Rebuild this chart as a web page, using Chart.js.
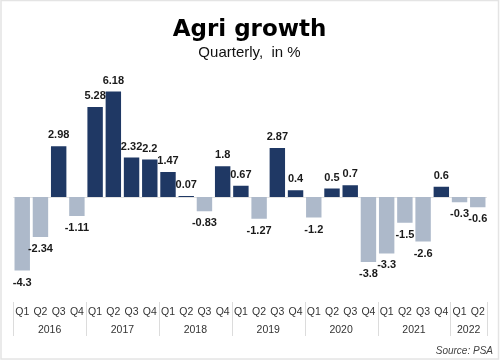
<!DOCTYPE html>
<html><head><meta charset="utf-8">
<script src="https://cdn.jsdelivr.net/npm/chart.js@4.4.0/dist/chart.umd.min.js"></script>
<style>html,body{margin:0;padding:0;background:#fff}canvas{display:block}</style>
</head><body>
<canvas id="c" width="500" height="362"></canvas>
<script>
const quarters = ['Q1','Q2','Q3','Q4','Q1','Q2','Q3','Q4','Q1','Q2','Q3','Q4','Q1','Q2','Q3','Q4','Q1','Q2','Q3','Q4','Q1','Q2','Q3','Q4','Q1','Q2'];
const years = ['2016','2017','2018','2019','2020','2021','2022'];
const quartersPerYear = [4,4,4,4,4,4,2];
const growth = [-4.3,-2.34,2.98,-1.11, 5.28,6.18,2.32,2.2, 1.47,0.07,-0.83,1.8, 0.67,-1.27,2.87,0.4, -1.2,0.5,0.7,-3.8, -3.3,-1.5,-2.6,0.6, -0.3,-0.6];

const POS = '#1f3864', NEG = '#adb9ca';
const SANS = '"Liberation Sans", Arial, sans-serif';

const extras = {
  id: 'extras',
  beforeDraw(chart) {
    const ctx = chart.ctx;
    ctx.save();
    ctx.fillStyle = '#fff';
    ctx.fillRect(0, 0, chart.width, chart.height);
    ctx.strokeStyle = '#e4e4e4';
    ctx.lineWidth = 1.5;
    ctx.strokeRect(1, 0.5, 497.5, 358.5);
    ctx.restore();
  },
  beforeDatasetsDraw(chart) {
    const ctx = chart.ctx, y = chart.scales.y, a = chart.chartArea;
    const y0 = Math.round(y.getPixelForValue(0)) + 0.5;
    ctx.save();
    ctx.strokeStyle = '#e2e2e2';
    ctx.lineWidth = 1;
    ctx.beginPath(); ctx.moveTo(a.left, y0); ctx.lineTo(a.right, y0); ctx.stroke();
    ctx.restore();
  },
  afterDatasetsDraw(chart) {
    const ctx = chart.ctx, meta = chart.getDatasetMeta(0);
    ctx.save();
    ctx.font = 'bold 11px ' + SANS;
    ctx.fillStyle = '#1a1a1a';
    ctx.textAlign = 'center';
    ctx.textBaseline = 'middle';
    meta.data.forEach((bar, i) => {
      const v = growth[i];
      const ty = v >= 0 ? bar.y - 11 : bar.y + 12;
      ctx.fillText(String(v), bar.x, ty);
    });
    const x = chart.scales.x;
    const half = (x.getPixelForValue(1) - x.getPixelForValue(0)) / 2;
    ctx.strokeStyle = '#dcdcdc';
    ctx.lineWidth = 1;
    let idx = 0;
    const bounds = [];
    quartersPerYear.forEach(n => { bounds.push(idx); idx += n; });
    bounds.push(idx);
    bounds.forEach(b => {
      const px = Math.round(b < quarters.length ? x.getPixelForValue(b) - half : x.getPixelForValue(b - 1) + half) + 0.5;
      ctx.beginPath(); ctx.moveTo(px, 302); ctx.lineTo(px, 336); ctx.stroke();
    });
    ctx.font = '10.5px ' + SANS;
    ctx.fillStyle = '#333';
    years.forEach((yr, k) => {
      const s = bounds[k], e = bounds[k + 1] - 1;
      const cx = (x.getPixelForValue(s) + x.getPixelForValue(e)) / 2;
      ctx.fillText(yr, cx, 330);
    });
    ctx.font = 'italic 10px ' + SANS;
    ctx.fillStyle = '#444';
    ctx.textAlign = 'right';
    ctx.fillText('Source: PSA', 493, 351);
    ctx.restore();
  }
};

new Chart(document.getElementById('c'), {
  type: 'bar',
  data: {
    labels: quarters,
    datasets: [{
      data: growth,
      backgroundColor: growth.map(v => v >= 0 ? POS : NEG),
      borderWidth: 0,
      barPercentage: 0.92,
      categoryPercentage: 0.92
    }]
  },
  options: {
    responsive: false,
    animation: false,
    devicePixelRatio: 1,
    layout: { padding: { top: 16, left: 12, right: 13, bottom: 43 } },
    plugins: {
      legend: { display: false },
      tooltip: { enabled: false },
      title: {
        display: true, text: 'Agri growth', color: '#000',
        font: { family: '"DejaVu Sans", sans-serif', weight: 'bold', size: 23 },
        padding: { top: 0, bottom: 0 }
      },
      subtitle: {
        display: true, text: 'Quarterly,  in %', color: '#111',
        font: { family: SANS, size: 15 },
        padding: { top: 0, bottom: 16 }
      }
    },
    scales: {
      x: {
        grid: { display: false, drawTicks: false },
        border: { display: false },
        ticks: { color: '#333', font: { family: SANS, size: 10.5 }, padding: 15, autoSkip: false, maxRotation: 0 },
        afterFit(scale) { scale.height = 28; }
      },
      y: { display: false, min: -5.5, max: 7 }
    }
  },
  plugins: [extras]
});
</script>
</body></html>
